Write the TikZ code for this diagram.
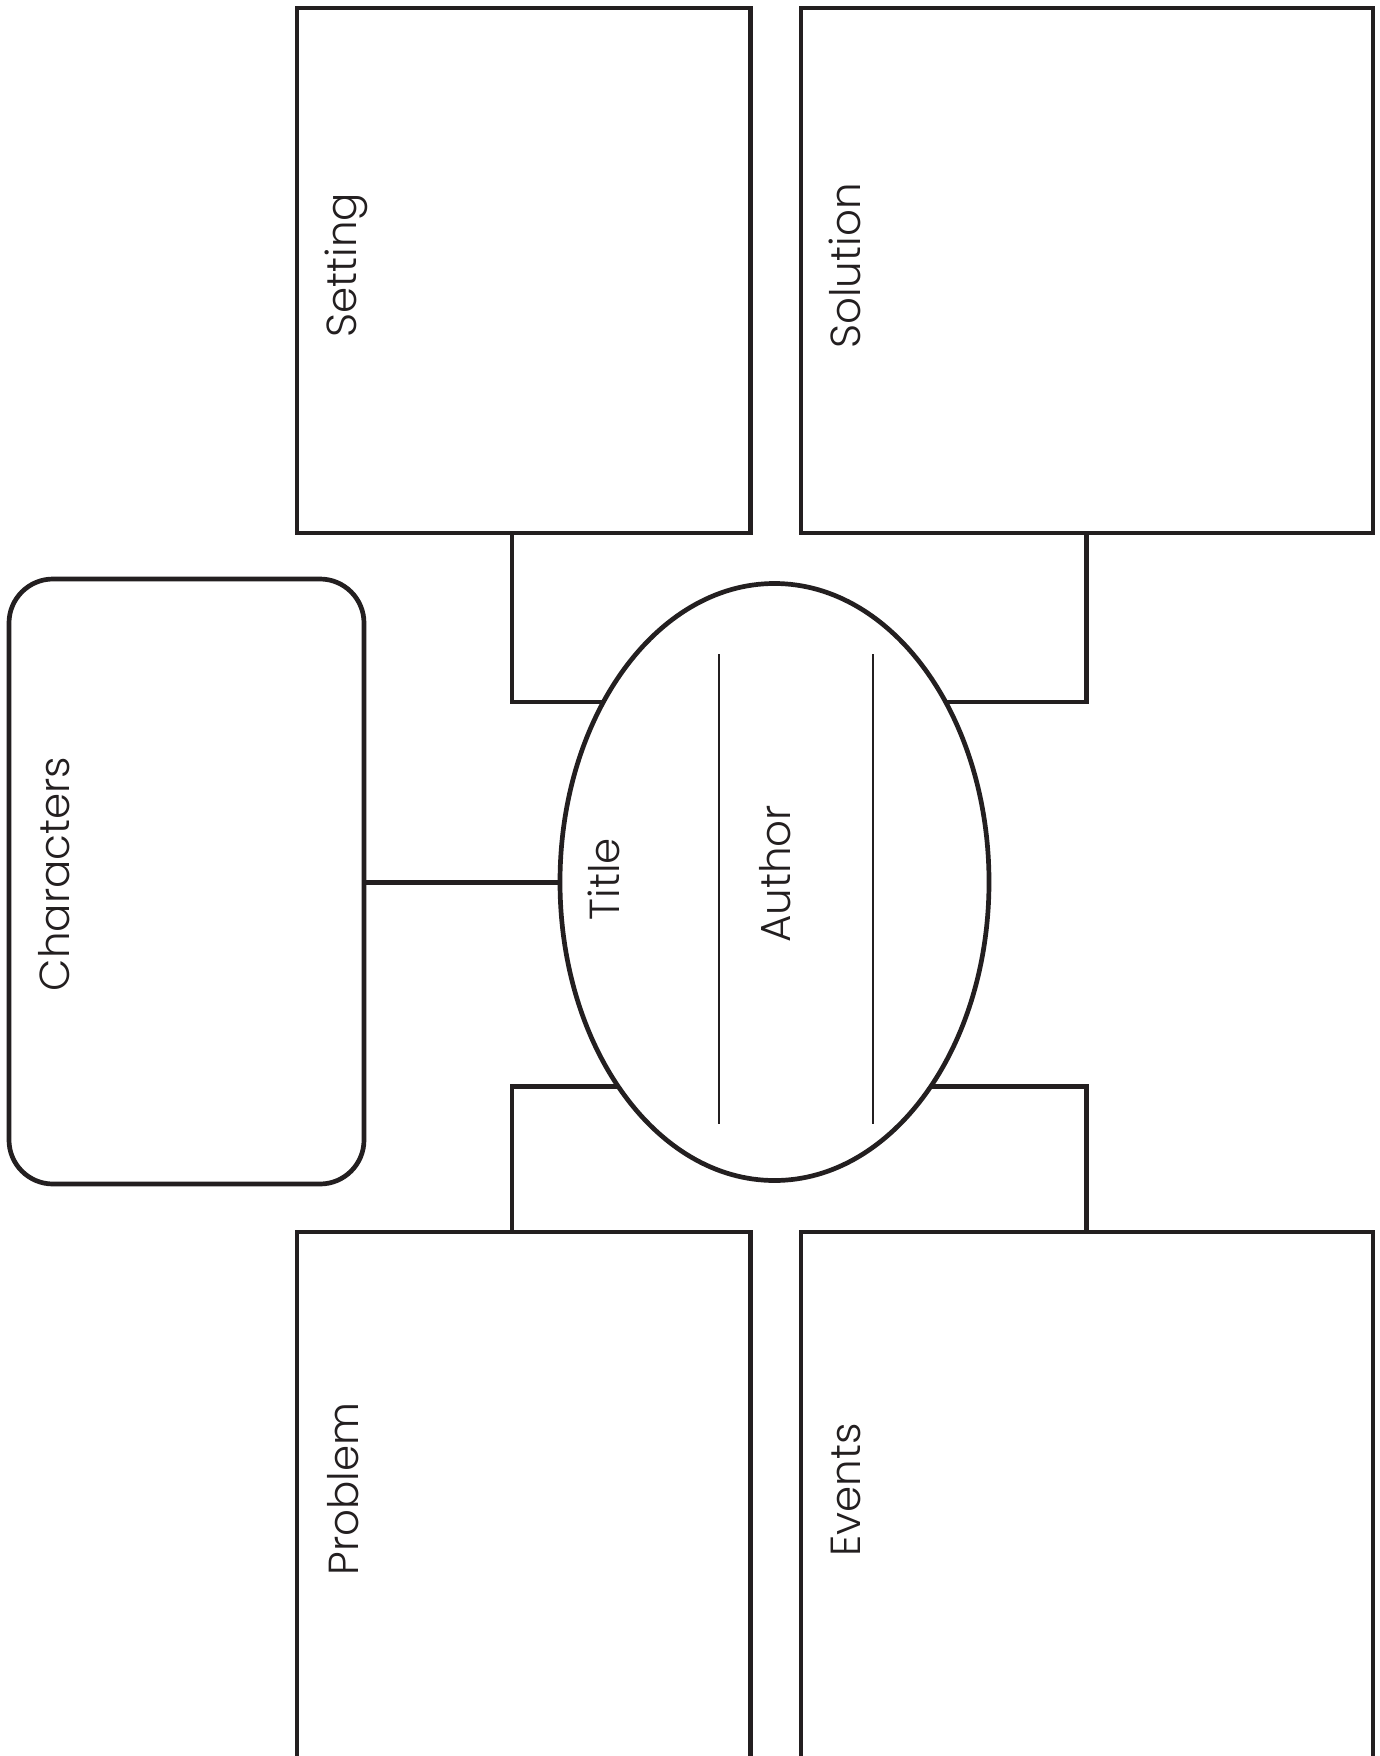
\documentclass[tikz,border=0pt]{standalone}
\usepackage{fontspec}
\setmainfont{Poppins}[UprightFont=* Light]
\begin{document}
\begin{tikzpicture}[x=0.5pt,y=-0.5pt,
  ink/.style={draw=inkc, line width=2.35pt},
  box/.style={ink, fill=white},
  thin/.style={draw=inkc, line width=1pt},
  lbl/.style={text=inkc, rotate=90, anchor=base, inner sep=0pt, font=\fontsize{21}{25}\selectfont}]
\definecolor{inkc}{HTML}{231F20}
\useasboundingbox (0,0) rectangle (1380,1756);
\fill[white] (0,0) rectangle (1380,1756);

% boxes
\draw[box] (297,8) rectangle (750.5,533);
\draw[box] (801,8) rectangle (1373,533);
\draw[box] (297,1232) rectangle (750.5,1758);
\draw[box] (801,1232) rectangle (1373,1758);
\draw[box, rounded corners=22pt] (9,579) rectangle (364,1184);

\node (setting) [inner sep=0pt, minimum width=453.5*0.5pt, minimum height=525*0.5pt] at (523.75,270.5) {};
\node (solution) [inner sep=0pt, minimum width=572*0.5pt, minimum height=525*0.5pt] at (1087,270.5) {};
\node (problem) [inner sep=0pt, minimum width=453.5*0.5pt, minimum height=526*0.5pt] at (523.75,1495) {};
\node (events) [inner sep=0pt, minimum width=572*0.5pt, minimum height=526*0.5pt] at (1087,1495) {};
\node (chars) [inner sep=0pt, minimum width=355*0.5pt, minimum height=605*0.5pt] at (186.5,881.5) {};

% connectors (drawn into the ellipse, which covers their ends)
\coordinate (c1) at (512,702);
\coordinate (c2) at (1086.5,702);
\coordinate (c3) at (512,1086.5);
\coordinate (c4) at (1086.5,1086.5);
\draw[ink] (setting.south -| c1) -- (c1) -- (700,702);
\draw[ink] (solution.south -| c2) -- (c2) -- (850,702);
\draw[ink] (problem.north -| c3) -- (c3) -- (700,1086.5);
\draw[ink] (events.north -| c4) -- (c4) -- (850,1086.5);
\draw[ink] (chars.east |- 0,882.6) -- (700,882.6);

% central ellipse
\draw[box] (774.5,882) ellipse [x radius=214.5, y radius=298.5];
\node (oval) [inner sep=0pt, minimum width=429*0.5pt, minimum height=597*0.5pt] at (774.5,882) {};
\coordinate (l1a) at (719,654);
\coordinate (l1b) at (719,1123.5);
\coordinate (l2a) at (872.6,654);
\coordinate (l2b) at (872.6,1123.5);
\draw[thin] (l1a) -- (l1b);
\draw[thin] (l2a) -- (l2b);

% labels
\node[lbl] (tSetting) at (356,265) {Setting};
\node[lbl] (tSolution) at (860,266) {Solution};
\node[lbl] (tChars) at (69.5,874) {Characters};
\node[lbl] (tTitle) at (619,879) {Title};
\node[lbl] (tAuthor) at (790,874) {Author};
\node[lbl] (tProblem) at (358,1489) {Problem};
\node[lbl] (tEvents) at (860,1490) {Events};
\end{tikzpicture}
\end{document}
